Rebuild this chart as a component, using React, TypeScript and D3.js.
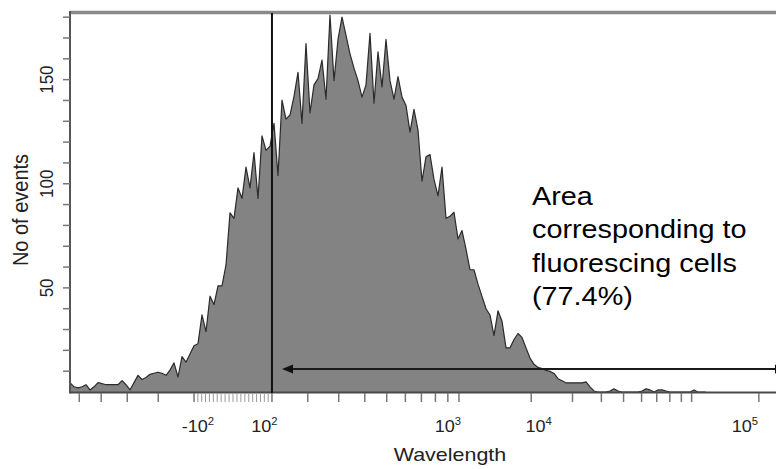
import React from 'react';
import * as d3 from 'd3';

// ---------- data ----------
// event counts per display channel (channels are evenly spaced on the logicle display axis)
const counts: number[] = [
  4.5, 2.5, 2, 2.5, 3.5, 1, 2.5, 4.5, 4, 3.5,
  3.5, 3.5, 3.5, 5.5, 3.5, 1, 4.5, 8, 6, 7,
  8.5, 9, 9.5, 9, 8, 10.5, 14, 7.2, 17, 14.3,
  18.3, 22.2, 23.2, 37, 29, 46, 42, 51, 51, 61,
  86, 83.4, 98, 93, 108, 98, 115, 93, 123, 116,
  118, 129, 104, 140.2, 131, 133, 142, 153.5, 129, 167.3,
  134, 147.5, 150.5, 159.4, 140.6, 181, 149.5, 169.3, 180, 171.2,
  162.4, 155.5, 149.5, 141.6, 147.5, 172.2, 138.7, 163.3, 146.5, 169.3,
  149.5, 140.6, 151.5, 141.6, 137.6, 124.8, 135.7, 125.8, 101.2, 113,
  114, 102.1, 94.2, 108, 83.4, 84.4, 86.3, 73.5, 77.5, 68.6,
  58.7, 58.7, 51.8, 45.9, 40, 37, 27.1, 39, 34, 21.2,
  21.2, 25.2, 28.1, 26.2, 21.2, 16.3, 13.3, 11.8, 11.3, 10.4,
  9.9, 8.9, 6.4, 5.4, 4.4, 4.4, 4.4, 4.4, 4.4, 4.9,
  2.5, 0.5, 0, 0, 0, 0.5, 1.5, 0.5, 0, 0,
  0, 0, 0, 0.5, 1.5, 1, 0, 1, 1, 0.5,
  0, 0, 0, 0, 0, 0, 1, 0, 0, 0,
];

const yTicks = d3.range(10, 181, 10);
const yLabels = [50, 100, 150];
const xLinearTicks = d3.range(-90, 91, 10);
const xLogTicks = [
  ...d3.range(-900, -99, 100),
  ...d3.range(100, 1000, 100),
  ...d3.range(1000, 10000, 1000),
  ...d3.range(10000, 100001, 10000),
];
const xLabels = [
  { base: '-10', exp: '2', at: -90 },
  { base: '10', exp: '2', at: 80 },
  { base: '10', exp: '3', at: 900 },
  { base: '10', exp: '4', at: 2150 },
  { base: '10', exp: '5', at: 17300 },
];
const gateValue = 100;
const arrowLevel = 11;
const annotation = ['Area', 'corresponding to', 'fluorescing cells', '(77.4%)'];
const xTitle = 'Wavelength';
const yTitle = 'No of events';

// ---------- logicle-like display transform ----------
const P = 2;
const A = 80.54;
const ZERO_CH = 40.75;
const CH_PER_DECADE = 55;
const F = (z: number) => Math.pow(10, z) - P * P * Math.pow(10, -z / P) + P * P - 1;
function logicleZ(v: number) {
  const a = Math.abs(v);
  let lo = 0, hi = 6;
  for (let k = 0; k < 60; k++) {
    const m = (lo + hi) / 2;
    if (A * F(m) < a) lo = m; else hi = m;
  }
  return Math.sign(v) * (lo + hi) / 2;
}
const channel = (v: number) => ZERO_CH + CH_PER_DECADE * logicleZ(v);

// ---------- layout ----------
const W = 776, H = 469;
const left = 70, right = 776, top = 13, bottom = 392;
const FONT = "'Liberation Sans', Arial, Helvetica, sans-serif";
const SX = 1.13;

export default function App() {
  const x = d3.scaleLinear().domain([0, 176.5]).range([left, right]);
  const y = d3.scaleLinear().domain([0, 182]).range([bottom, top]);

  const area = d3.area<number>()
    .x((_, i) => x(i))
    .y0(y(0))
    .y1((d) => y(d));
  const line = d3.line<number>()
    .x((_, i) => x(i))
    .y((d) => y(d));

  const gx = x(channel(gateValue));
  const ay = y(arrowLevel);
  const tipX = gx + 10;

  const inRange = (px: number) => px >= left && px <= right;

  return (
    <svg width={W} height={H} style={{ position: 'absolute', left: 0, top: 0, background: '#fff' }}
      fontFamily={FONT}>
      <rect x={0} y={0} width={W} height={H} fill="#fff" />
      {/* histogram */}
      <path d={area(counts) || ''} fill="#838383" />
      <path d={line(counts) || ''} fill="none" stroke="#2b2b2b" strokeWidth={1.2} strokeLinejoin="round" />

      {/* frame */}
      <line x1={left} x2={right} y1={top - 0.5} y2={top - 0.5} stroke="#8a8a8a" strokeWidth={3.5} />
      <line x1={left} x2={left} y1={top - 2} y2={bottom + 1.5} stroke="#555" strokeWidth={2} />
      <line x1={left} x2={right} y1={bottom + 0.5} y2={bottom + 0.5} stroke="#4a4a4a" strokeWidth={2} />

      {/* y ticks */}
      {yTicks.map((t) => (
        <line key={'yt' + t} x1={left - 7} x2={left} y1={y(t)} y2={y(t)} stroke="#777" strokeWidth={1.5} />
      ))}
      {yLabels.map((t) => (
        <text key={'yl' + t} transform={`translate(53,${y(t)}) scale(${SX},1) rotate(-90)`}
          textAnchor="middle" fontSize={17} fill="#222">{t}</text>
      ))}
      <text transform={`translate(28,210) scale(${SX},1) rotate(-90)`} textAnchor="middle" fontSize={20} fill="#222">
        {yTitle}
      </text>

      {/* x ticks */}
      {xLinearTicks.map((v) => {
        const px = x(channel(v));
        return <line key={'xl' + v} x1={px} x2={px} y1={bottom + 2} y2={bottom + 10} stroke="#999" strokeWidth={1} />;
      })}
      {xLogTicks.map((v) => {
        const px = x(channel(v));
        if (!inRange(px)) return null;
        return <line key={'xg' + v} x1={px} x2={px} y1={bottom + 1} y2={bottom + 10} stroke="#777" strokeWidth={1.5} />;
      })}
      {xLabels.map((l) => (
        <g key={'lab' + l.at} transform={`translate(${x(channel(l.at))},432) scale(${SX},1)`}>
          <text textAnchor="middle" fontSize={16} fill="#222">
            {l.base}
            <tspan fontSize={10} dy={-7}>{l.exp}</tspan>
          </text>
        </g>
      ))}
      <g transform={`translate(450,461) scale(${SX},1)`}>
        <text textAnchor="middle" fontSize={19} fill="#222">{xTitle}</text>
      </g>

      {/* gate line */}
      <line x1={gx} x2={gx} y1={top} y2={bottom + 1} stroke="#111" strokeWidth={2} />

      {/* arrow */}
      <line x1={tipX + 6} x2={right + 10} y1={ay} y2={ay} stroke="#1a1a1a" strokeWidth={2} />
      <polygon points={`${tipX},${ay} ${tipX + 11},${ay - 4.5} ${tipX + 11},${ay + 4.5}`} fill="#111" />
      <polygon points={`${right + 10},${ay} ${right - 1},${ay - 4.5} ${right - 1},${ay + 4.5}`} fill="#111" />

      {/* annotation */}
      <g transform={`translate(532,205) scale(${SX},1)`}>
        {annotation.map((s, i) => (
          <text key={s} x={0} y={i * 33.3} fontSize={25.5} fill="#000">{s}</text>
        ))}
      </g>
    </svg>
  );
}
